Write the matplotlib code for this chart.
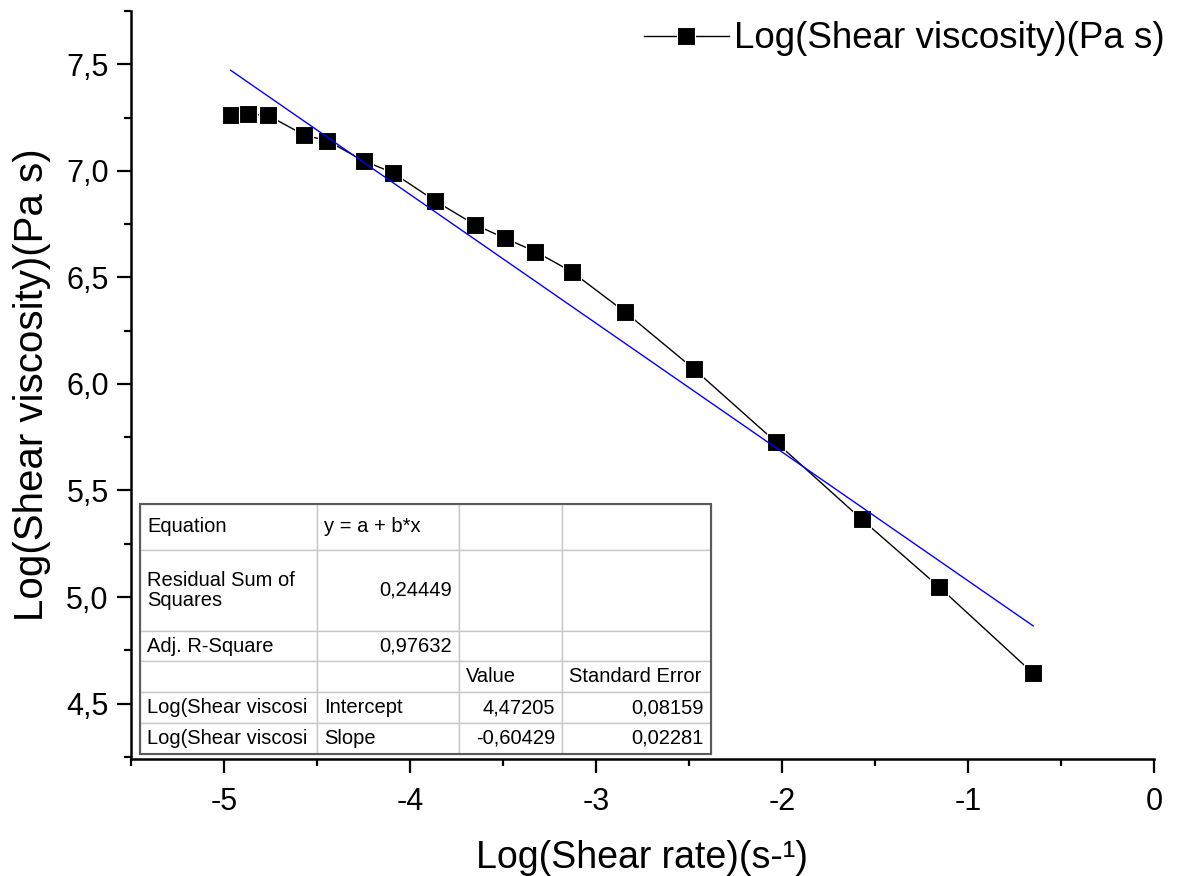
import matplotlib
matplotlib.use("Agg")
import matplotlib.pyplot as plt
import numpy as np
from matplotlib.patches import Rectangle
from matplotlib.ticker import MultipleLocator, FuncFormatter

plt.rcParams["font.family"] = ["Liberation Sans", "DejaVu Sans"]
plt.rcParams["axes.unicode_minus"] = False

# measured flow curve (log-log)
log_rate = [-4.964, -4.871, -4.763, -4.569, -4.444, -4.250, -4.094, -3.863,
            -3.653, -3.490, -3.326, -3.131, -2.843, -2.472, -2.031, -1.572,
            -1.156, -0.650]
log_visc = [7.260, 7.266, 7.260, 7.168, 7.141, 7.047, 6.992, 6.858,
            6.748, 6.684, 6.621, 6.527, 6.337, 6.069, 5.726, 5.365,
            5.048, 4.642]

# linear fit results
intercept = 4.47205
slope = -0.60429
intercept_err = 0.08159
slope_err = 0.02281
rss = 0.24449
adj_r2 = 0.97632


def comma(v, digits):
    return f"{v:.{digits}f}".replace(".", ",")


fig = plt.figure(figsize=(11.86, 8.76), dpi=100)
ax = fig.add_axes([131 / 1186, 1 - 759 / 876, 1023 / 1186, 748 / 876])

ax.plot(log_rate, log_visc, color="black", lw=1.0, marker="s", ms=13,
        mfc="black", mec="white", mew=0.8,
        label="Log(Shear viscosity)(Pa s)")

fit_x = np.array([log_rate[0], log_rate[-1]])
ax.plot(fit_x, intercept + slope * fit_x, color="#0000ff", lw=1.0)

ax.set_xlim(-5.5, 0)
ax.set_ylim(4.24, 7.75)
ax.xaxis.set_major_locator(MultipleLocator(1))
ax.xaxis.set_minor_locator(MultipleLocator(0.5))
ax.yaxis.set_major_locator(MultipleLocator(0.5))
ax.yaxis.set_minor_locator(MultipleLocator(0.25))
ax.yaxis.set_major_formatter(FuncFormatter(lambda v, p: comma(v, 1)))
ax.xaxis.set_major_formatter(FuncFormatter(lambda v, p: f"{v:.0f}"))

for side in ("top", "right"):
    ax.spines[side].set_visible(False)
for side in ("left", "bottom"):
    ax.spines[side].set_linewidth(1.8)
ax.tick_params(which="major", length=10, width=1.6, labelsize=22)
ax.tick_params(which="minor", length=5, width=1.6)
ax.tick_params(axis="x", which="major", pad=10)
ax.tick_params(axis="y", which="major", pad=6)

ax.set_xlabel("Log(Shear rate)(s-\u00b9)", fontsize=27, va="center")
ax.xaxis.set_label_coords(0.5, (759 - 858) / 748)
ax.set_ylabel("Log(Shear viscosity)(Pa s)", fontsize=29, va="center")
ax.yaxis.set_label_coords((32 - 131) / 1023, 0.5)

ax.legend(loc="center left", bbox_to_anchor=(644 / 1186, 1 - 39 / 876),
          bbox_transform=fig.transFigure, frameon=False, fontsize=26.5,
          handlelength=2.3, handletextpad=0.15, borderpad=0,
          borderaxespad=0)

# fit statistics table
rows = [
    ["Equation", "y = a + b*x", "", ""],
    ["Residual Sum of\nSquares", comma(rss, 5), "", ""],
    ["Adj. R-Square", comma(adj_r2, 5), "", ""],
    ["", "", "Value", "Standard Error"],
    ["Log(Shear viscosi", "Intercept", comma(intercept, 5), comma(intercept_err, 5)],
    ["Log(Shear viscosi", "Slope", comma(slope, 5), comma(slope_err, 5)],
]
col_px = [177, 142, 103, 149]
row_px = [46, 81, 30, 31, 31, 31]
right_cells = {(1, 1), (2, 1), (4, 2), (4, 3), (5, 2), (5, 3)}

tbl_box = [(140 - 131) / 1023, (759 - 754) / 748, 571 / 1023, 250 / 748]
tbl = ax.table(cellText=rows, colWidths=[w / sum(col_px) for w in col_px],
               cellLoc="left", bbox=tbl_box)
tbl.auto_set_font_size(False)
tbl.set_fontsize(14.5)
for (r, c), cell in tbl.get_celld().items():
    cell.set_height(row_px[r])
    cell.set_edgecolor("#c8c8c8")
    cell.set_linewidth(1.0)
    cell.PAD = 7 / col_px[c]
    cell.get_text().set_linespacing(1.0)
    if (r, c) in right_cells:
        cell.get_text().set_ha("right")
        cell._loc = "right"
ax.add_patch(Rectangle((tbl_box[0], tbl_box[1]), tbl_box[2], tbl_box[3],
                       transform=ax.transAxes, fill=False,
                       edgecolor="#5a5a5a", lw=1.5, zorder=5))

fig.savefig("out.png", dpi=100)
